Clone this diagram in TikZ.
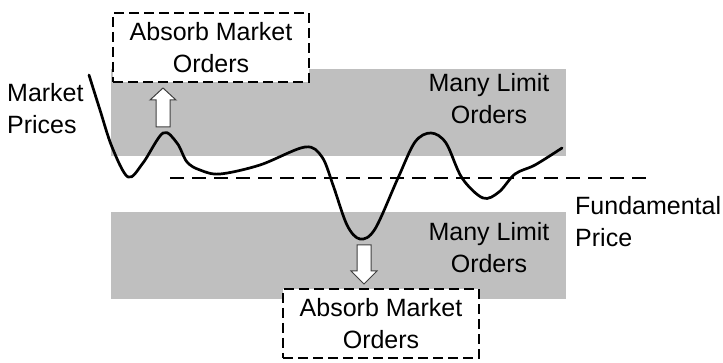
\documentclass[tikz,border=0pt]{standalone}
\usepackage{fontspec}
\setmainfont{Liberation Sans}
\begin{document}
\begin{tikzpicture}[x=1pt,y=-1pt,
  band/.style={fill=bandgray,draw=none},
  absorb/.style={draw=black,line width=2.8pt,dash pattern=on 10pt off 5pt,fill=white,
    minimum width=196pt,minimum height=69pt,inner sep=0pt,align=center,
    font=\fontsize{25}{32}\selectfont},
  lbl/.style={inner sep=0pt,font=\fontsize{25}{32}\selectfont},
  fatarrow/.style={draw=black!75,line width=1pt,fill=white,line join=miter},
  price/.style={line width=2.7pt,line cap=round,line join=round},
  fund/.style={line width=2.7pt,dash pattern=on 14pt off 8pt}]
\definecolor{bandgray}{HTML}{BFBFBF}
\useasboundingbox (0,0) rectangle (723,363);
% gray bands
\fill[band] (111,69) rectangle (566,156);
\fill[band] (111,212) rectangle (566,299);
% fundamental price line
\coordinate (f1) at (170,178);
\coordinate (f2) at (648,178);
\draw[fund] (f1) -- (f2);
% market price curve
\draw[price] plot[smooth,tension=0.55] coordinates {
 (89,75) (100,110) (112,147) (128,177) (143,163) (163,133) (177,143) (187,162)
 (200,170) (220,174) (260,165) (305,147) (322,157) (333,185) (347,225) (360,239)
 (375,229) (398,178) (415,142) (431,133) (446,143) (462,178) (483,198) (499,192)
 (515,174) (535,165) (562,148)};
% boxes
\node[absorb] (top) at (211,47.5) {Absorb Market\\Orders};
\node[absorb] (bot) at (381,323.5) {Absorb Market\\Orders};
% fat arrows
\draw[fatarrow] (156,127) -- (156,100) -- (150,100) -- (163,88) -- (176,100) -- (170,100) -- (170,127) -- cycle;
\draw[fatarrow] (357,245) -- (357,271) -- (351,271) -- (364,284) -- (377,271) -- (371,271) -- (371,245) -- cycle;
% labels
\node[lbl,align=center] (mlo1) at (489,99) {Many Limit\\Orders};
\node[lbl,align=center] (mlo2) at (489,248) {Many Limit\\Orders};
\node[lbl,align=left,anchor=west] (mp) at (7,109) {Market\\Prices};
\node[lbl,align=left,anchor=west] (fp) at (575,222) {Fundamental\\Price};
\end{tikzpicture}
\end{document}
